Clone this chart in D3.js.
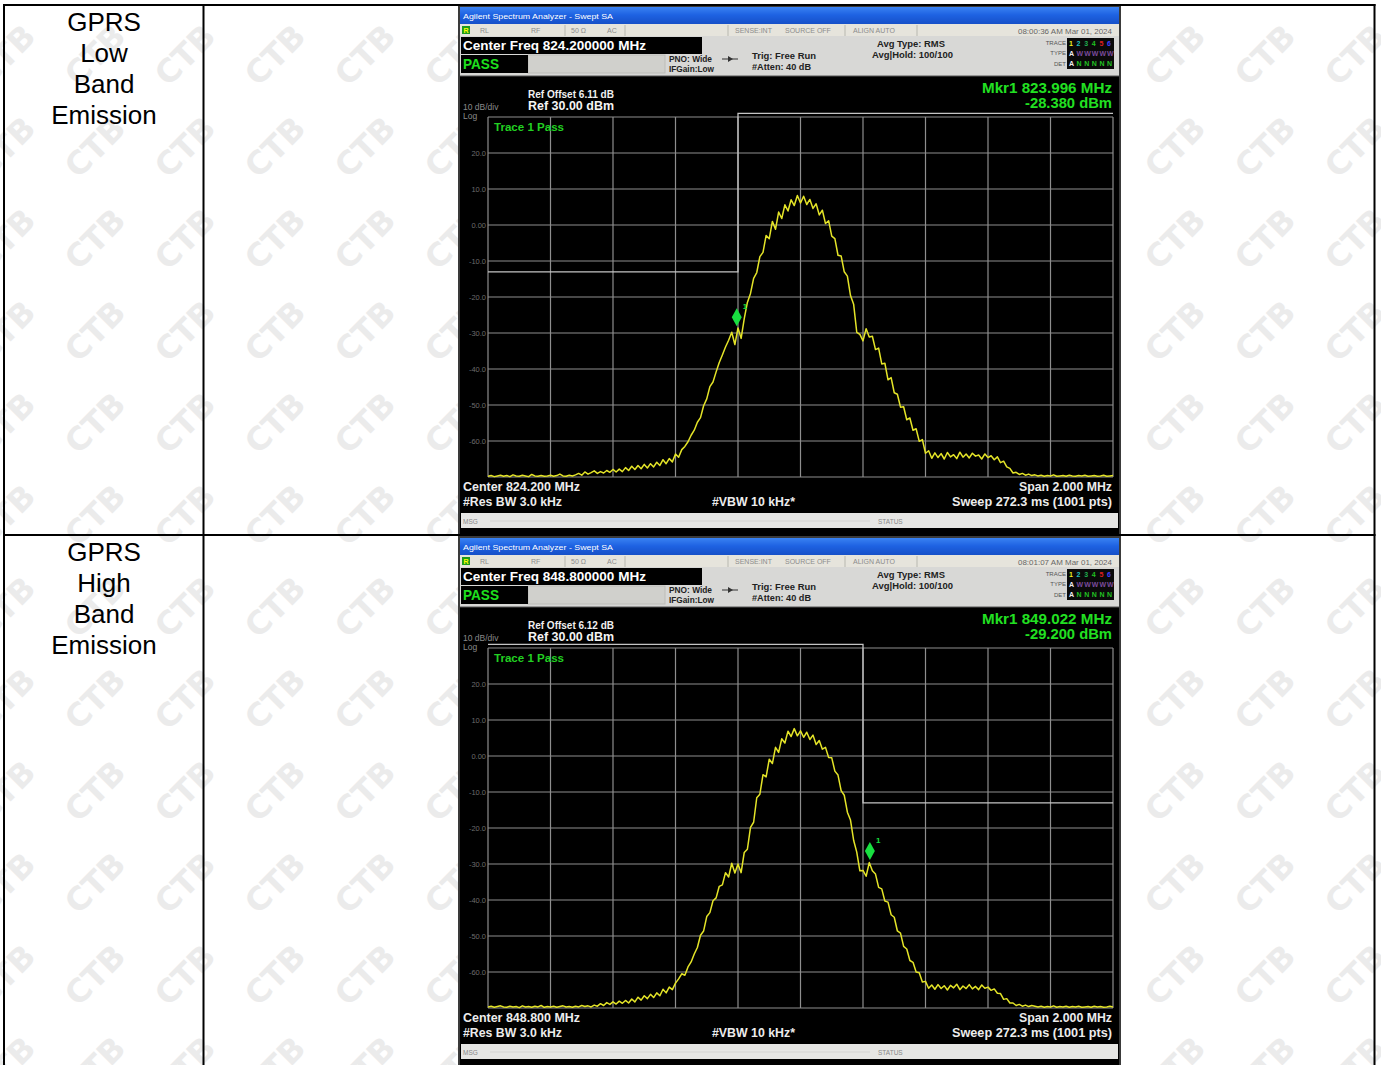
<!DOCTYPE html>
<html><head><meta charset="utf-8">
<script src="https://cdn.jsdelivr.net/npm/d3@7"></script>
<style>body{margin:0;background:#fff}svg{display:block}</style>
</head><body>
<svg id="c" width="1381" height="1065"></svg>
<script>
// ---------- data ----------
const rowLabels = [["GPRS","Low","Band","Emission"],["GPRS","High","Band","Emission"]];
const centerFreqs = [824.2, 848.8];          // MHz
const spanMHz = 2.0;
const refLevel = 30;                          // dBm
const dbPerDiv = 10;
const refOffsets = ["6.11", "6.12"];
const timestamps = ["08:00:36 AM Mar 01, 2024", "08:01:07 AM Mar 01, 2024"];
const markerFreqs = [823.996, 849.022];
const markerLevels = [-28.380, -29.200];
const bandEdges = [824.0, 849.0];
const limitDbm = -13;
const inBandLimitShown = 31.0;
const yTickValues = [20, 10, 0, -10, -20, -30, -40, -50, -60];
const yTickLabels = ["20.0","10.0","0.00","-10.0","-20.0","-30.0","-40.0","-50.0","-60.0"];

const lowBandTrace = [
-69.8,-69.6,-69.9,-69.7,-69.5,-69.8,-69.6,-69.9,-69.4,-69.7,
-69.8,-69.5,-69.7,-69.9,-69.3,-69.7,-69.8,-69.6,-69.8,-69.7,
-69.5,-69.8,-69.6,-69.2,-69.7,-69.8,-69.5,-69.7,-69.4,
-69.0,-69.5,-68.6,-69.2,-68.8,-68.3,-69.0,-68.5,-68.9,-68.2,-68.7,-67.9,-68.6,
-67.8,-68.5,-67.4,-68.2,-67.0,-67.9,-66.8,-67.7,-66.5,-67.5,-66.3,
-67.2,-65.9,-66.8,-65.2,-66.3,-64.9,-65.8,
-63.6,-64.5,-62.4,-61.5,
-60.2,-58.4,-57.0,-54.8,-53.5,-50.2,
-48.3,-44.9,-43.6,-40.8,-38.2,-36.1,
-33.9,-32.0,-29.8,-33.2,-28.6,-31.5,
-26.0,-21.5,-19.0,-14.8,-13.2,-8.8,-7.6,-2.9,
-3.8,1.0,-1.2,3.6,1.8,5.6,3.9,7.0,5.4,8.2,
6.1,8.0,5.7,7.1,4.6,5.9,2.8,4.1,0.4,1.2,
-3.1,-3.8,-8.4,-8.6,-13.0,-14.2,-19.6,-22.0,-29.8,-30.4,
-32.2,-28.8,-31.1,-30.9,-34.6,-34.2,-38.6,-38.4,-43.0,-42.4,
-46.6,-47.0,-50.6,-50.5,-54.1,-53.6,-57.0,-56.6,-60.1,-59.6,-63.4,-62.7,
-64.8,-63.3,-64.6,-63.5,-65.0,-63.2,-64.4,-63.8,-64.9,-63.1,-64.5,-63.6,-64.7,-63.4,-64.2,-63.9,-65.0,-63.6,-64.6,-64.1,
-65.2,-64.4,-66.0,-65.6,-67.2,-67.6,-68.9,
-68.7,-69.3,-69.0,-69.5,-69.2,-69.6,-69.4,
-69.7,-69.5,-69.8,-69.6,-69.7,-69.4,-69.8,-69.7,-69.6,-69.8,-69.5,-69.7,-69.8,-69.6,-69.7,-69.5,-69.8,-69.7,-69.6,-69.8,-69.7,-69.5,-69.8,-69.7,-69.6
];

const highBandTrace = [
-69.7,-69.5,-69.8,-69.6,-69.4,-69.7,-69.8,-69.5,-69.7,-69.6,-69.9,-69.4,-69.7,-69.6,-69.8,-69.5,-69.7,-69.3,-69.8,-69.6,-69.7,-69.5,-69.8,-69.6,-69.4,-69.7,-69.6,-69.8,-69.5,-69.7,-69.3,-69.6,-69.4,-69.7,-69.2,-69.5,
-68.8,-69.3,-68.5,-69.0,-68.3,-68.9,-68.1,-68.7,-67.9,-68.6,
-67.5,-68.3,-67.0,-67.8,-66.6,-67.4,-66.2,-67.1,-65.8,-66.6,
-64.8,-65.8,-64.2,-64.9,-63.1,-61.9,-60.5,-60.9,
-58.6,-57.2,-55.0,-53.2,-49.8,-48.6,
-44.6,-43.5,-40.2,-39.4,-36.2,-35.8,
-32.4,-33.6,-29.8,-32.5,-30.0,-32.4,
-26.8,-25.9,-19.8,-18.4,-11.6,-10.6,-5.2,-5.8,
-0.9,-2.1,2.4,1.0,4.8,3.6,6.9,5.4,7.6,5.6,
7.0,5.2,6.6,4.6,5.8,3.2,4.3,1.9,2.4,-0.4,
-0.5,-4.2,-5.3,-9.6,-10.9,-15.6,-17.8,-23.4,-26.7,-31.9,
-31.8,-33.4,-29.6,-31.9,-32.8,-36.5,-36.9,-40.3,-40.6,-44.1,
-44.8,-48.6,-49.2,-52.9,-53.6,-56.8,-57.3,-60.0,-60.2,-62.8,-62.6,-64.5,
-63.6,-64.8,-63.5,-64.6,-63.8,-65.0,-63.7,-64.4,-63.4,-64.9,-63.9,-64.6,-63.5,-64.7,-64.0,-64.9,-63.6,-64.5,-64.2,-65.1,
-64.7,-65.9,-66.0,-67.6,-67.4,-68.6,-68.6,
-69.3,-69.0,-69.5,-69.2,-69.6,-69.3,-69.5,
-69.7,-69.5,-69.8,-69.6,-69.7,-69.4,-69.8,-69.6,-69.7,-69.5,-69.8,-69.6,-69.7,-69.5,-69.8,-69.7,-69.6,-69.8,-69.5,-69.7,-69.6,-69.8,-69.7,-69.5,-69.7
];
const traces = [lowBandTrace, highBandTrace];

// ---------- drawing ----------
const svg = d3.select("#c");
const defs = svg.append("defs");
const tb = defs.append("linearGradient").attr("id","tb").attr("x1",0).attr("y1",0).attr("x2",0).attr("y2",1);
tb.append("stop").attr("offset","0").attr("stop-color","#3d86f4");
tb.append("stop").attr("offset","0.5").attr("stop-color","#1e62e2");
tb.append("stop").attr("offset","1").attr("stop-color","#1650c8");
defs.append("clipPath").attr("id","page").append("rect").attr("x",0).attr("y",0).attr("width",1381).attr("height",1065);

// watermark
const wm = svg.append("g").attr("clip-path","url(#page)").attr("fill","#ebebeb")
  .attr("font-family","'DejaVu Sans', sans-serif").attr("font-weight","bold").attr("font-size",32);
for (let m = -1; m < 13; m++) {
  for (let k = -1; k < 17; k++) {
    const cx = 5 + 90 * k, cy = 55 + 92 * m;
    wm.append("text").attr("transform", `translate(${cx},${cy}) rotate(-45)`)
      .attr("text-anchor","middle").attr("dy","0.35em").text("CTB");
  }
}

// row labels
const rowTops = [5, 535];
rowLabels.forEach((lines, r) => {
  lines.forEach((t, j) => {
    svg.append("text").attr("x",104).attr("y", rowTops[r] + 26 + 31 * j)
      .attr("text-anchor","middle").attr("font-family","'Liberation Sans', Arial, sans-serif")
      .attr("font-size",26).attr("fill","#000").text(t);
  });
});

const SANS = "'Liberation Sans', Arial, sans-serif";

function txt(g, x, y, s, opt) {
  opt = opt || {};
  const t = g.append("text").attr("x",x).attr("y",y).text(s)
    .attr("font-family",SANS).attr("font-size",opt.size || 10)
    .attr("fill",opt.fill || "#fff").attr("font-weight",opt.weight || "normal");
  if (opt.anchor) t.attr("text-anchor",opt.anchor);
  if (opt.len) t.attr("textLength",opt.len).attr("lengthAdjust","spacingAndGlyphs");
  return t;
}

function drawScreen(idx, sy) {
  const g = svg.append("g");
  const X0 = 459, X1 = 1120, W = X1 - X0;
  const cf = centerFreqs[idx];
  const x = d3.scaleLinear().domain([cf - spanMHz/2, cf + spanMHz/2]).range([488, 1113]);
  const y = d3.scaleLinear().domain([refLevel - 10*dbPerDiv, refLevel]).range([sy + 471, sy + 111]);

  g.append("rect").attr("x",X0).attr("y",sy).attr("width",W).attr("height",530).attr("fill","#000");
  g.append("rect").attr("x",X0).attr("y",sy).attr("width",W).attr("height",18).attr("fill","url(#tb)");
  txt(g, 463, sy + 13, "Agilent Spectrum Analyzer - Swept SA", {size:8, fill:"#fff", len:150});
  g.append("rect").attr("x",X0+1).attr("y",sy+18).attr("width",W-2).attr("height",12).attr("fill","#e6e4dc");
  g.append("rect").attr("x",462).attr("y",sy+20).attr("width",8).attr("height",8).attr("fill","#1c9a1c");
  txt(g, 463.5, sy+27, "R", {size:7, fill:"#ff0", weight:"bold"});
  const strip = [["RL",480],["RF",531],["50 Ω",571],["AC",607],["SENSE:INT",735],["SOURCE OFF",785],["ALIGN AUTO",853]];
  strip.forEach(d => txt(g, d[1], sy+27, d[0], {size:7, fill:"#8c8c8c"}));
  [565, 625, 728, 845, 917].forEach(px => g.append("line").attr("x1",px).attr("x2",px)
     .attr("y1",sy+19).attr("y2",sy+30).attr("stroke","#b8b8b0"));
  txt(g, 1112, sy+28, timestamps[idx], {size:7.5, fill:"#666", anchor:"end", len:94});
  g.append("rect").attr("x",X0+1).attr("y",sy+30).attr("width",W-2).attr("height",40).attr("fill","#d8d8d6");
  g.append("rect").attr("x",528).attr("y",sy+49).attr("width",137).attr("height",18).attr("fill","#d0d0cc")
    .attr("stroke","#bcbcb8");
  g.append("rect").attr("x",461).attr("y",sy+31).attr("width",241).attr("height",17).attr("fill","#000");
  txt(g, 463, sy+44, `Center Freq ${cf.toFixed(6)} MHz`, {size:13.5, weight:"bold", fill:"#fff", len:183});
  g.append("rect").attr("x",461).attr("y",sy+49).attr("width",67).attr("height",18).attr("fill","#000");
  txt(g, 463, sy+63, "PASS", {size:14, weight:"bold", fill:"#1ee01e", len:36});
  txt(g, 669, sy+56, "PNO: Wide", {size:8.5, weight:"bold", fill:"#222", len:43});
  txt(g, 669, sy+66, "IFGain:Low", {size:8.5, weight:"bold", fill:"#222", len:45});
  g.append("line").attr("x1",722).attr("x2",738).attr("y1",sy+53).attr("y2",sy+53).attr("stroke","#333");
  g.append("path").attr("d",`M728,${sy+50}L733,${sy+53}L728,${sy+56}Z`).attr("fill","#333");
  txt(g, 752, sy+53, "Trig: Free Run", {size:9, weight:"bold", fill:"#222", len:64});
  txt(g, 752, sy+64, "#Atten: 40 dB", {size:8.5, weight:"bold", fill:"#222", len:59});
  txt(g, 877, sy+41, "Avg Type: RMS", {size:9.5, weight:"bold", fill:"#222", len:68});
  txt(g, 872, sy+52, "Avg|Hold: 100/100", {size:9, weight:"bold", fill:"#222", len:81});
  txt(g, 1066, sy+39, "TRACE", {size:6, fill:"#555", anchor:"end"});
  txt(g, 1066, sy+49, "TYPE", {size:6, fill:"#555", anchor:"end"});
  txt(g, 1066, sy+60, "DET", {size:6, fill:"#555", anchor:"end"});
  g.append("rect").attr("x",1067).attr("y",sy+32).attr("width",47).attr("height",31).attr("fill","#0a0a0a");
  const trCols = ["#f0f020","#20c0c0","#20b050","#20c020","#e02020","#4040ff"];
  trCols.forEach((c, i) => {
    txt(g, 1069 + i*7.6, sy+40, String(i+1), {size:7, fill:c, weight:"bold"});
    txt(g, 1069 + i*7.6, sy+50, i === 0 ? "A" : "W", {size:7, fill: i === 0 ? "#eee" : "#7a4a9a", weight:"bold"});
    txt(g, 1069 + i*7.6, sy+60, i === 0 ? "A" : "N", {size:7, fill: i === 0 ? "#eee" : "#22c022", weight:"bold"});
  });
  g.append("line").attr("x1",X0).attr("x2",X1).attr("y1",sy+70).attr("y2",sy+70).attr("stroke","#555");

  txt(g, 528, sy+92, `Ref Offset ${refOffsets[idx]} dB`, {size:10, weight:"bold", fill:"#f0f0f0", len:86});
  txt(g, 528, sy+104, "Ref 30.00 dBm", {size:12.5, weight:"bold", fill:"#f4f4f4", len:86});
  txt(g, 463, sy+104, "10 dB/div", {size:8.5, fill:"#8a8a8a"});
  txt(g, 463, sy+113, "Log", {size:8.5, fill:"#8a8a8a"});
  txt(g, 1112, sy+87, `Mkr1 ${markerFreqs[idx].toFixed(3)} MHz`, {size:15, weight:"bold", fill:"#22e022", anchor:"end", len:130});
  txt(g, 1112, sy+102, `${markerLevels[idx].toFixed(3)} dBm`, {size:15, weight:"bold", fill:"#22e022", anchor:"end", len:87});

  const grid = g.append("g").attr("stroke","#8e8e8e").attr("stroke-width",1.2);
  const xt = d3.range(11).map(i => cf - spanMHz/2 + i * spanMHz/10);
  grid.selectAll("line.v").data(xt).enter().append("line")
    .attr("x1",d=>x(d)).attr("x2",d=>x(d)).attr("y1",y(refLevel)).attr("y2",y(refLevel-100));
  const yt = d3.range(11).map(i => refLevel - i * dbPerDiv);
  grid.selectAll("line.h").data(yt).enter().append("line")
    .attr("x1",x.range()[0]).attr("x2",x.range()[1]).attr("y1",d=>y(d)).attr("y2",d=>y(d));
  yTickValues.forEach((v, i) => txt(g, 486, y(v) + 3, yTickLabels[i], {size:7.5, fill:"#6c6c6c", anchor:"end"}));
  txt(g, 494, sy+125, "Trace 1 Pass", {size:10.5, fill:"#22d022", weight:"bold", len:70});

  const edge = bandEdges[idx];
  const lo = cf - spanMHz/2, hi = cf + spanMHz/2;
  const lim = idx === 0
    ? [[lo, limitDbm],[edge, limitDbm],[edge, inBandLimitShown],[hi, inBandLimitShown]]
    : [[lo, inBandLimitShown],[edge, inBandLimitShown],[edge, limitDbm],[hi, limitDbm]];
  g.append("path").attr("d", d3.line().x(d=>x(d[0])).y(d=>y(d[1]))(lim))
    .attr("fill","none").attr("stroke","#c4c4c4").attr("stroke-width",1.3);

  const cid = "clip" + idx;
  defs.append("clipPath").attr("id",cid).append("rect")
    .attr("x",488).attr("y",sy+111).attr("width",625).attr("height",361);
  const data = traces[idx];
  const step = spanMHz / (data.length - 1);
  g.append("path").attr("clip-path",`url(#${cid})`)
    .attr("d", d3.line().x((d,i)=>x(lo + i*step)).y(d=>y(d))(data))
    .attr("fill","none").attr("stroke","#e4e428").attr("stroke-width",1.5).attr("stroke-linejoin","round");

  const mx = x(markerFreqs[idx]), my = y(markerLevels[idx]);
  g.append("path").attr("d",`M${mx},${my-19}L${mx+5},${my-10}L${mx},${my-1}L${mx-5},${my-10}Z`).attr("fill","#18e040");
  txt(g, mx+6, my-18, "1", {size:8, fill:"#18e040", weight:"bold"});

  txt(g, 463, sy+485, `Center ${cf.toFixed(3)} MHz`, {size:12, weight:"bold", fill:"#ececec", len:117});
  txt(g, 463, sy+500, "#Res BW 3.0 kHz", {size:12, weight:"bold", fill:"#ececec", len:99});
  txt(g, 712, sy+500, "#VBW 10 kHz*", {size:12, weight:"bold", fill:"#ececec", len:83});
  txt(g, 1112, sy+485, `Span ${spanMHz.toFixed(3)} MHz`, {size:12, weight:"bold", fill:"#ececec", anchor:"end", len:93});
  txt(g, 1112, sy+500, "Sweep  272.3 ms (1001 pts)", {size:12, weight:"bold", fill:"#ececec", anchor:"end", len:160});
  g.append("rect").attr("x",X0+2).attr("y",sy+507).attr("width",W-4).attr("height",15).attr("fill","#e6e6e4");
  txt(g, 463, sy+518, "MSG", {size:6.5, fill:"#888"});
  txt(g, 878, sy+518, "STATUS", {size:6.5, fill:"#888"});
  g.append("line").attr("x1",490).attr("x2",870).attr("y1",sy+515).attr("y2",sy+515).attr("stroke","#d4d4d2");
  g.append("rect").attr("x",X0).attr("y",sy).attr("width",W).attr("height",530)
    .attr("fill","none").attr("stroke","#3a3a3a").attr("stroke-width",2);
}

drawScreen(0, 6);
drawScreen(1, 537);

const tl = svg.append("g").attr("stroke","#000").attr("stroke-width",2);
tl.append("line").attr("x1",3).attr("x2",1375.5).attr("y1",5).attr("y2",5);
tl.append("line").attr("x1",3).attr("x2",1375.5).attr("y1",535).attr("y2",535);
tl.append("line").attr("x1",4).attr("x2",4).attr("y1",4).attr("y2",1065);
tl.append("line").attr("x1",203.5).attr("x2",203.5).attr("y1",4).attr("y2",1065);
tl.append("line").attr("x1",1374.5).attr("x2",1374.5).attr("y1",4).attr("y2",1065);
</script>
</body></html>
